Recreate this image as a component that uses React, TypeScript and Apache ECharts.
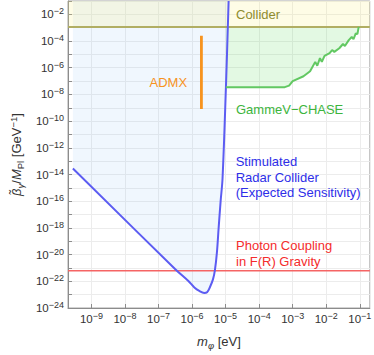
import React, { useEffect, useRef } from 'react';
import * as echarts from 'echarts';

// ---- data (eV, GeV^-1) ----
const massRange = [2e-10, 0.2];
const couplingRange = [1e-24, 1e-1];

const radarMass = [2.8e-10, 3.16e-7, 7.9e-7, 1.17e-6, 1.64e-6, 2.3e-6, 2.8e-6, 3.4e-6, 4.2e-6, 4.8e-6, 5.5e-6, 6.2e-6, 7.1e-6, 8.1e-6, 1.02e-5, 1.23e-5];
const radarCoupling = [2.8e-14, 8.1e-22, 1e-22, 3.5e-23, 1.9e-23, 1.35e-23, 1.5e-23, 3.6e-23, 1.4e-22, 6.9e-22, 1.4e-20, 1e-18, 1e-16, 5e-15, 3e-8, 1e-1];

const chaseMass = [1.02e-5, 5.8e-4, 7.8e-4, 1e-3, 2.1e-3, 3.3e-3, 4.7e-3, 5.4e-3, 6.5e-3, 7.4e-3, 8.9e-3, 1.26e-2, 1.5e-2, 1.74e-2, 2.45e-2, 3.16e-2, 3.6e-2, 4.7e-2, 5.75e-2, 6.5e-2, 7.6e-2, 8.5e-2, 9.3e-2];
const chaseCoupling = [3.5e-8, 3.5e-8, 4.6e-8, 9.8e-8, 2.3e-7, 5.4e-7, 2.75e-6, 1.4e-6, 5.2e-6, 2.75e-6, 7.8e-6, 1.23e-5, 2.1e-5, 1.55e-5, 2.9e-5, 6e-5, 4.3e-5, 1.17e-4, 2e-4, 1.4e-4, 3.7e-4, 3.3e-4, 1.15e-3];

const colliderCoupling = 1.15e-3;
const admxMass = 1.9e-6;
const admxCoupling = [8e-10, 2.5e-4];
const fRCoupling = 6.3e-22;

const labelTexts = [
  'Collider',
  'ADMX',
  'GammeV\u2212CHASE',
  'Stimulated\nRadar Collider\n(Expected Sensitivity)',
  'Photon Coupling\nin F(R) Gravity',
];

// ---- styling ----
const FONT = 'Liberation Sans, Arial, sans-serif';
const lg = Math.log10;

function buildOption() {
  const X0 = lg(massRange[0]);
  const X1 = lg(massRange[1]);
  const Y0 = lg(couplingRange[0]);
  const Y1 = lg(couplingRange[1]);
  const colY = lg(colliderCoupling);

  const radarData = radarMass.map((m, i) => [lg(m), lg(radarCoupling[i])]);
  const chaseData = chaseMass.map((m, i) => [lg(m), lg(chaseCoupling[i])]);
  const colliderData = [[X0, colY], [X1, colY]];
  const fRData = [[X0, lg(fRCoupling)], [X1, lg(fRCoupling)]];
  const admxData = admxCoupling.map((c) => [lg(admxMass), lg(c)]);

  const isInt = (v: number) => Math.abs(v - Math.round(v)) < 1e-6;
  const pow = (v: number) => `{b|10}{s|\u2212${Math.abs(Math.round(v))}}`;
  const tickRich = {
    b: { fontSize: 11.5, fontFamily: FONT, color: '#333', lineHeight: 15 },
    s: { fontSize: 9, fontFamily: FONT, color: '#333', verticalAlign: 'top', lineHeight: 9.5 },
  };
  const nameRich = {
    i: { fontSize: 13, fontFamily: FONT, fontStyle: 'italic', color: '#333', lineHeight: 17 },
    t: { fontSize: 13, fontFamily: FONT, color: '#333', lineHeight: 17 },
    sub: { fontSize: 9.5, fontFamily: FONT, color: '#333', verticalAlign: 'bottom', lineHeight: 11 },
    isub: { fontSize: 9.5, fontFamily: FONT, fontStyle: 'italic', color: '#333', verticalAlign: 'bottom', lineHeight: 11 },
    sup: { fontSize: 9.5, fontFamily: FONT, color: '#333', verticalAlign: 'top', lineHeight: 10 },
  };

  const axisCol = '#8c8c8c';
  const gridCol = '#ececec';

  const pos = [
    { x: 236, y: 14.5, color: '#8e8c2f', lh: 15 },
    { x: 149.5, y: 82.3, color: '#f7931e', lh: 15 },
    { x: 236, y: 109.7, color: '#3cb53c', lh: 15 },
    { x: 235.7, y: 177, color: '#2e2ee8', lh: 15.5 },
    { x: 236, y: 253.5, color: '#f42c2c', lh: 16 },
  ];

  return {
    animation: false,
    backgroundColor: '#fff',
    grid: { left: 59, right: 3, top: 1, bottom: 44, show: true, borderColor: '#a6a6a6', borderWidth: 1 },
    xAxis: {
      type: 'value',
      min: X0,
      max: X1,
      splitNumber: 9,
      axisLine: { show: true, lineStyle: { color: axisCol, width: 1 } },
      axisTick: { show: true, inside: true, length: 4, lineStyle: { color: axisCol } },
      splitLine: { show: true, lineStyle: { color: gridCol, width: 1 } },
      axisLabel: {
        margin: 3,
        showMinLabel: false,
        showMaxLabel: false,
        formatter: (v: number) => (isInt(v) ? pow(v) : ''),
        rich: tickRich,
      },
      name: '{i|m}{isub|\u03c6}{t| [eV]}',
      nameLocation: 'middle',
      nameGap: 25,
      nameTextStyle: { rich: nameRich, fontFamily: FONT },
    },
    yAxis: {
      type: 'value',
      min: Y0,
      max: Y1,
      interval: 1,
      axisLine: { show: true, lineStyle: { color: axisCol, width: 1 } },
      axisTick: { show: true, inside: true, length: 4, lineStyle: { color: axisCol } },
      splitLine: { show: true, lineStyle: { color: gridCol, width: 1 } },
      axisLabel: {
        margin: 4,
        formatter: (v: number) => (isInt(v) && Math.round(v) % 2 === 0 ? pow(v) : ''),
        rich: tickRich,
      },
      name: '{i|\u03b2\u0303}{isub|\u03b3}{t|/}{i|M}{sub|Pl}{t| [GeV}{sup|\u22121}{t|]}',
      nameLocation: 'middle',
      nameGap: 43,
      nameTextStyle: { rich: nameRich, fontFamily: FONT },
    },
    series: [
      {
        type: 'line',
        data: radarData,
        smooth: 0.35,
        showSymbol: false,
        lineStyle: { width: 0, opacity: 0 },
        areaStyle: { color: 'rgba(150,200,245,0.2)', origin: 'end' },
        z: 1,
        silent: true,
      },
      {
        // excluded band between the GammeV-CHASE curve and the collider bound
        type: 'custom',
        data: chaseData,
        z: 1,
        silent: true,
        renderItem: (params: any, api: any) => {
          if (params.dataIndex !== 0) return null;
          const pts = chaseData.map((p) => api.coord(p));
          pts.push(api.coord([chaseData[chaseData.length - 1][0], colY]));
          pts.push(api.coord([chaseData[0][0], colY]));
          return {
            type: 'polygon',
            shape: { points: pts },
            style: { fill: 'rgba(100,222,100,0.18)', stroke: 'none' },
          };
        },
      },
      {
        type: 'line',
        data: colliderData,
        showSymbol: false,
        lineStyle: { color: '#b1ae63', width: 2 },
        areaStyle: { color: 'rgba(250,238,130,0.28)', origin: 'end' },
        z: 2,
        silent: true,
      },
      {
        type: 'line',
        data: fRData,
        showSymbol: false,
        lineStyle: { color: '#f56464', width: 1.5 },
        z: 3,
        silent: true,
      },
      {
        type: 'line',
        data: radarData,
        smooth: 0.35,
        showSymbol: false,
        lineStyle: { color: '#5c5cf2', width: 2 },
        z: 4,
        silent: true,
      },
      {
        type: 'line',
        data: chaseData,
        showSymbol: false,
        lineStyle: { color: '#62c862', width: 2 },
        z: 4,
        silent: true,
      },
      {
        type: 'line',
        data: admxData,
        showSymbol: false,
        lineStyle: { color: '#f7931e', width: 2.8 },
        z: 4,
        silent: true,
      },
    ],
    graphic: labelTexts.map((t, i) => ({
      type: 'text',
      x: pos[i].x,
      y: pos[i].y,
      z: 10,
      silent: true,
      style: {
        text: t,
        fill: pos[i].color,
        fontSize: 13,
        fontFamily: FONT,
        lineHeight: pos[i].lh,
        align: 'left',
        verticalAlign: 'middle',
        textAlign: 'left',
        textVerticalAlign: 'middle',
      },
    })),
  };
}

export default function App() {
  const ref = useRef<HTMLDivElement>(null);
  useEffect(() => {
    if (!ref.current) return;
    const chart = echarts.init(ref.current, null, { renderer: 'svg' });
    chart.setOption(buildOption() as any);
    return () => chart.dispose();
  }, []);
  return (
    <div
      ref={ref}
      style={{ position: 'fixed', left: 0, top: 0, width: 374, height: 355, background: '#fff' }}
    />
  );
}
